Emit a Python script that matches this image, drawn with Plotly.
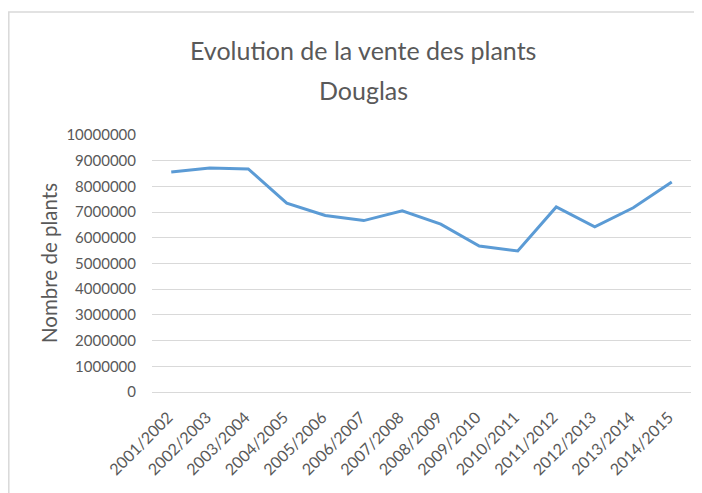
import plotly.graph_objects as go

categories = ["2001/2002", "2002/2003", "2003/2004", "2004/2005", "2005/2006",
              "2006/2007", "2007/2008", "2008/2009", "2009/2010", "2010/2011",
              "2011/2012", "2012/2013", "2013/2014", "2014/2015"]
ventes = [8560000, 8720000, 8680000, 7350000, 6870000, 6670000, 7050000,
          6530000, 5680000, 5490000, 7200000, 6430000, 7170000, 8170000]
y_ticks = [0, 1000000, 2000000, 3000000, 4000000, 5000000, 6000000,
           7000000, 8000000, 9000000, 10000000]
title_lines = ["Evolution de la vente des plants", "Douglas"]
y_title = "Nombre de plants"

W, H = 702, 493
OFF = 8  # page body margin
L, R, T, B = 152 - OFF, 11 + OFF, 135 - OFF, 101 + OFF
pw, ph = W - L - R, H - T - B

def px_x(p):
    return (p - OFF - L) / pw

def px_y(p):
    return (H - B - (p - OFF)) / ph

fig = go.Figure(go.Scatter(x=categories, y=ventes, mode="lines",
                           line=dict(color="#5B9BD5", width=3)))

font_fam = "Lato, Open Sans, sans-serif"
grey = "#595959"
fig.update_layout(
    width=W, height=H,
    margin=dict(l=L, r=R, t=T, b=B, autoexpand=False),
    paper_bgcolor="white", plot_bgcolor="white",
    showlegend=False,
    font=dict(family=font_fam),
)
fig.update_xaxes(type="category", tickangle=-45, showgrid=False,
                 showline=False, ticks="", automargin=False,
                 ticklabelstandoff=12, ticklabelshift=-3,
                 tickfont=dict(size=16, color=grey),
                 range=[-0.5, len(categories) - 0.5])
fig.update_yaxes(range=[0, 10000000], tickvals=y_ticks,
                 ticktext=[str(v) for v in y_ticks],
                 showgrid=True, gridcolor="#D9D9D9", gridwidth=1,
                 zeroline=True, zerolinecolor="#D9D9D9", zerolinewidth=1,
                 automargin=False, ticklabelstandoff=15,
                 tickfont=dict(size=15, color=grey))
for txt, ypx in zip(title_lines, [50, 90]):
    fig.add_annotation(text=txt, xref="paper", yref="paper",
                       x=px_x(363), y=px_y(ypx),
                       xanchor="center", yanchor="middle", showarrow=False,
                       font=dict(family=font_fam, size=25, color=grey))
fig.add_annotation(text=y_title, xref="paper", yref="paper",
                   x=px_x(49), y=px_y(263), textangle=-90,
                   xanchor="center", yanchor="middle", showarrow=False,
                   font=dict(family=font_fam, size=20.5, color=grey))
fig.add_shape(type="rect", xref="paper", yref="paper",
              x0=px_x(8.8), x1=2, y0=-1, y1=px_y(12),
              line=dict(color="#D9D9D9", width=1.5), fillcolor="rgba(0,0,0,0)",
              layer="below")
fig.write_html("out.html")
